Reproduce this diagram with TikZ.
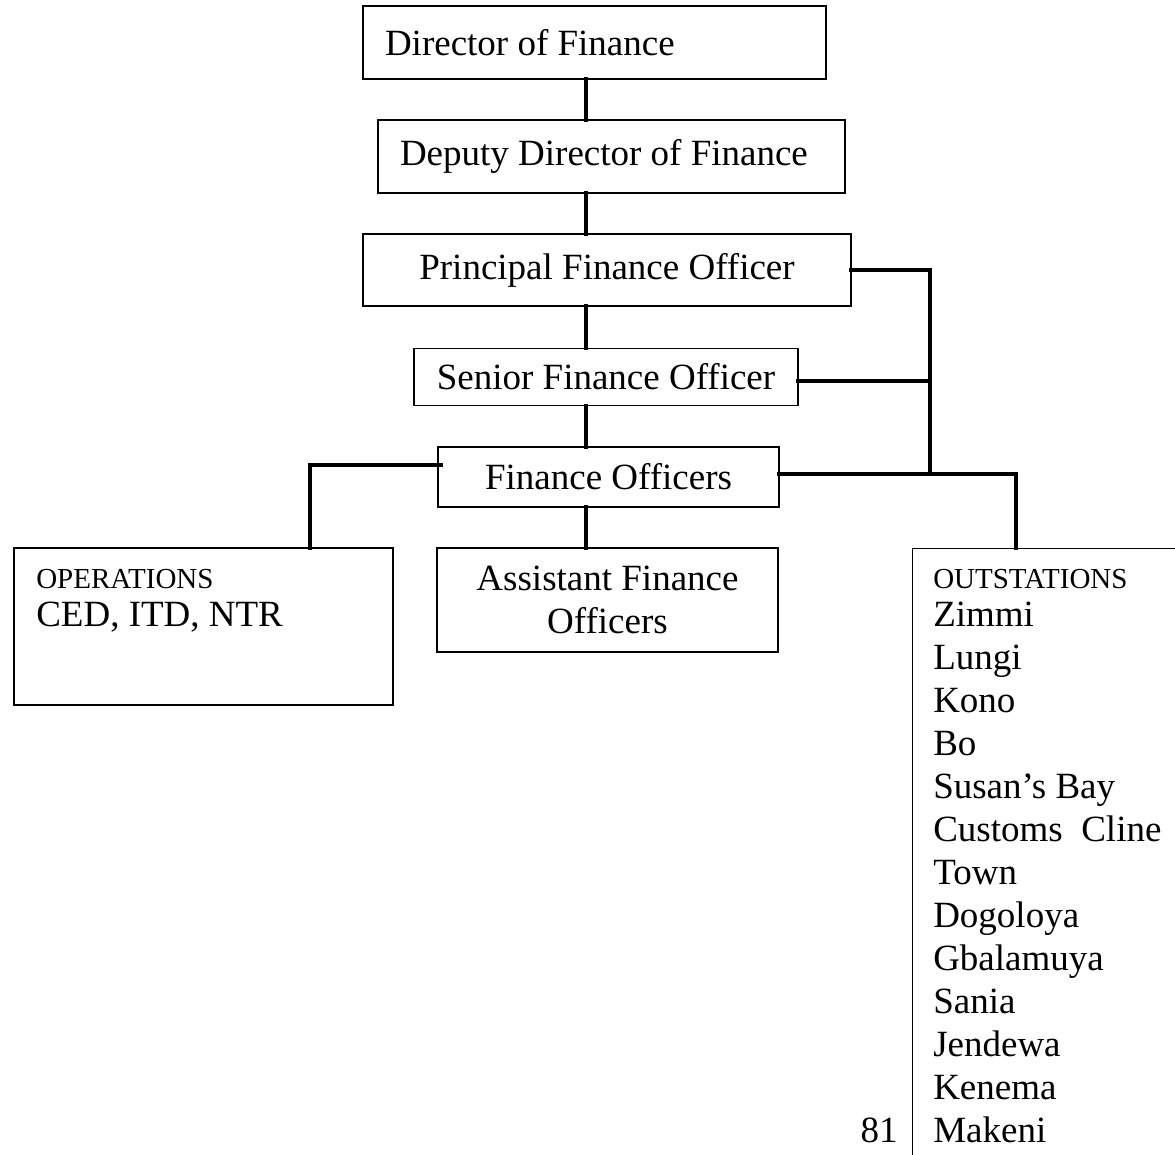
\documentclass[tikz,border=0pt]{standalone}
\usepackage{fontspec}
\setmainfont{Liberation Serif}
\usetikzlibrary{calc}

\newcommand{\bigtxt}{\fontsize{27.75pt}{32.25pt}\selectfont}
\newcommand{\smalltxt}{\fontsize{21.75pt}{26pt}\selectfont}

\tikzset{
  box/.style={draw, line width=1pt, rectangle, inner sep=0pt, font=\bigtxt},
  leftbox/.style={box, inner xsep=16.5pt},
  conn/.style={line width=3.6pt, line cap=rect},
  txt/.style={inner sep=0pt, anchor=base west, font=\bigtxt},
  smalltxtnode/.style={inner sep=0pt, anchor=base west, font=\smalltxt},
}

\begin{document}
\begin{tikzpicture}[x=0.75pt, y=-0.75pt]
  \useasboundingbox (0,0) rectangle (1175,1155);
  \clip (0,0) rectangle (1175,1155);

  % chain of posts
  \node[leftbox, minimum height=54.75pt] (dir) at (594.5,42.5) {\makebox[314.25pt][l]{Director of Finance}};
  \node[leftbox, minimum height=54.75pt] (dep) at (611.5,156.5) {\makebox[317.25pt][l]{Deputy Director of Finance}};
  \node[box, minimum width=366pt, minimum height=54pt] (pfo) at (607,270) {Principal Finance Officer};
  \node[box, minimum width=288pt, minimum height=42.75pt] (sfo) at (606,377) {Senior Finance Officer};
  \node[box, minimum width=255.75pt, minimum height=45pt] (fo) at (608.5,477) {Finance Officers};
  \node[box, minimum width=255.75pt, minimum height=78pt, align=center] (afo) at (607.5,600) {Assistant Finance\\Officers};

  % operations box
  \node[box, minimum width=284.25pt, minimum height=117.75pt] (ops) at (203.5,626.5) {};
  \node[smalltxtnode] (opshead) at (36,588) {OPERATIONS};
  \node[txt] (opsunits) at (36,626) {CED, ITD, NTR};

  % outstations box, running off the page
  \node[box, anchor=north west, minimum width=300pt, minimum height=500pt] (outst) at (912,548) {};
  \node[smalltxtnode] (outhead) at (933,588) {OUTSTATIONS};
  \foreach \place [count=\i] in {Zimmi, Lungi, Kono, Bo, Susan’s Bay, Customs\ \ Cline, Town,
      Dogoloya, Gbalamuya, Sania, Jendewa, Kenema, Makeni}
    \node[txt] (st\i) at (933,{626+43*(\i-1)}) {\place};

  % page number
  \node[inner sep=0pt, anchor=base east, font=\bigtxt] (pageno) at (898,1142) {81};

  % connectors
  \coordinate (sp) at (586,0);
  \coordinate (rj) at (930,474);
  \coordinate (odrop) at (1016,0);
  \coordinate (lj) at (310,465);

  \draw[conn] (dir.south -| sp) -- (dep.north -| sp);
  \draw[conn] (dep.south -| sp) -- (pfo.north -| sp);
  \draw[conn] (pfo.south -| sp) -- (sfo.north -| sp);
  \draw[conn] (sfo.south -| sp) -- (fo.north -| sp);
  \draw[conn] (fo.south -| sp) -- (afo.north -| sp);

  \draw[conn] (pfo.east) -| (rj);
  \draw[conn] ($(sfo.east)+(0,4)$) -- ($(sfo.east -| rj)+(0,4)$);
  \draw[conn] (fo.east |- rj) -| (outst.north -| odrop);

  \draw[conn] ($(fo.west |- lj)+(3,0)$) -| (ops.north -| lj);
\end{tikzpicture}
\end{document}
